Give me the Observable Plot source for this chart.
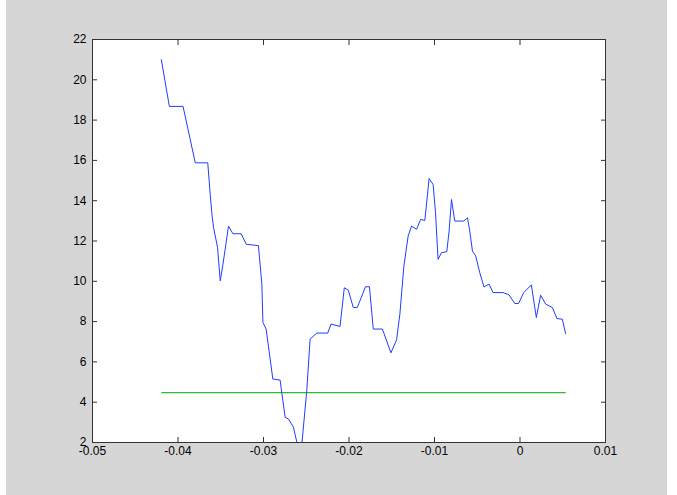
<!DOCTYPE html>
<html>
<head>
<meta charset="utf-8">
<script src="https://cdn.jsdelivr.net/npm/d3@7"></script>
<script src="https://cdn.jsdelivr.net/npm/@observablehq/plot@0.6"></script>
<style>
  html, body { margin: 0; padding: 0; background: #ffffff; }
  #bg { position: absolute; left: 6px; top: 0; width: 661px; height: 495px; background: #d6d6d6; }
  #chart { position: absolute; left: 0; top: 0; }
</style>
</head>
<body>
<div id="bg"></div>
<div id="chart"></div>
<script>
// Blue series: x values and y values
const seriesX = [
  -0.04195, -0.04101, -0.03941, -0.03798, -0.03652, -0.03623, -0.03603, -0.03584, -0.03537, -0.03506,
  -0.03474, -0.03409, -0.03358, -0.03261, -0.03202, -0.03059, -0.03047, -0.03019, -0.03007, -0.02969,
  -0.02891, -0.02806, -0.02747, -0.02709, -0.02650, -0.02604, -0.02552, -0.02494, -0.02455, -0.02377,
  -0.02249, -0.02210, -0.02105, -0.02055, -0.02008, -0.01950, -0.01903, -0.01807, -0.01761, -0.01716,
  -0.01609, -0.01510, -0.01443, -0.01405, -0.01358, -0.01308, -0.01268, -0.01210, -0.01163, -0.01113,
  -0.01063, -0.01016, -0.00988, -0.00958, -0.00918, -0.00856, -0.00829, -0.00801, -0.00763, -0.00658,
  -0.00614, -0.00588, -0.00556, -0.00518, -0.00471, -0.00421, -0.00362, -0.00316, -0.00199, -0.00129,
  -0.00062, -0.00016, 0.00043, 0.00133, 0.00191, 0.00241, 0.00300, 0.00378, 0.00432, 0.00495,
  0.00533
];
const seriesY = [
  21.0, 18.68, 18.68, 15.88, 15.88, 14.31, 13.32, 12.66, 11.67, 10.02,
  10.85, 12.74, 12.36, 12.36, 11.84, 11.77, 11.17, 9.86, 7.96, 7.63,
  5.15, 5.1, 3.25, 3.17, 2.76, 1.9, 1.9, 4.57, 7.13, 7.43,
  7.43, 7.88, 7.76, 9.68, 9.56, 8.70, 8.70, 9.73, 9.73, 7.63,
  7.63, 6.45, 7.1, 8.37, 10.76, 12.25, 12.74, 12.58, 13.07, 13.02,
  15.1, 14.8, 13.4, 11.09, 11.42, 11.47, 12.5, 14.06, 12.99, 12.99,
  13.15, 12.5, 11.5, 11.26, 10.43, 9.72, 9.86, 9.44, 9.44, 9.33,
  8.9, 8.9, 9.44, 9.82, 8.2, 9.31, 8.87, 8.70, 8.15, 8.12,
  7.41
];
// Green horizontal reference line
const refX = [-0.0419, 0.0053];
const refY = [4.47, 4.47];

const xTicks = [-0.05, -0.04, -0.03, -0.02, -0.01, 0, 0.01];
const yTicks = [2, 4, 6, 8, 10, 12, 14, 16, 18, 20, 22];

const series = seriesX.map((x, i) => ({x, y: seriesY[i]}));
const ref = refX.map((x, i) => ({x, y: refY[i]}));
const fmt = d => String(+d.toFixed(2)).replace("\u2212", "-");

const plot = Plot.plot({
  width: 677,
  height: 495,
  marginLeft: 92,
  marginRight: 72,
  marginTop: 39,
  marginBottom: 53,
  style: {background: "transparent", fontFamily: "'Liberation Sans', Arial, sans-serif", fontSize: "12px", color: "#000"},
  x: {domain: [-0.05, 0.01]},
  y: {domain: [2, 22]},
  marks: [
    Plot.frame({fill: "white"}),
    Plot.line(series, {x: "x", y: "y", stroke: "#1f3dff", strokeWidth: 1, clip: true}),
    Plot.line(ref, {x: "x", y: "y", stroke: "#00a000", strokeWidth: 1}),
    Plot.axisX({anchor: "bottom", ticks: xTicks, tickFormat: fmt, tickSize: -5, tickPadding: 9, stroke: "#333", fill: "#000", label: null}),
    Plot.axisX({anchor: "top", ticks: xTicks, tickFormat: null, text: null, tickSize: -5, stroke: "#333", label: null}),
    Plot.axisY({anchor: "left", ticks: yTicks, tickFormat: fmt, tickSize: -5, tickPadding: 11, stroke: "#333", fill: "#000", label: null}),
    Plot.axisY({anchor: "right", ticks: yTicks, tickFormat: null, text: null, tickSize: -5, stroke: "#333", label: null}),
    Plot.frame({stroke: "#333", strokeWidth: 1})
  ]
});
document.getElementById("chart").appendChild(plot);
</script>
</body>
</html>
